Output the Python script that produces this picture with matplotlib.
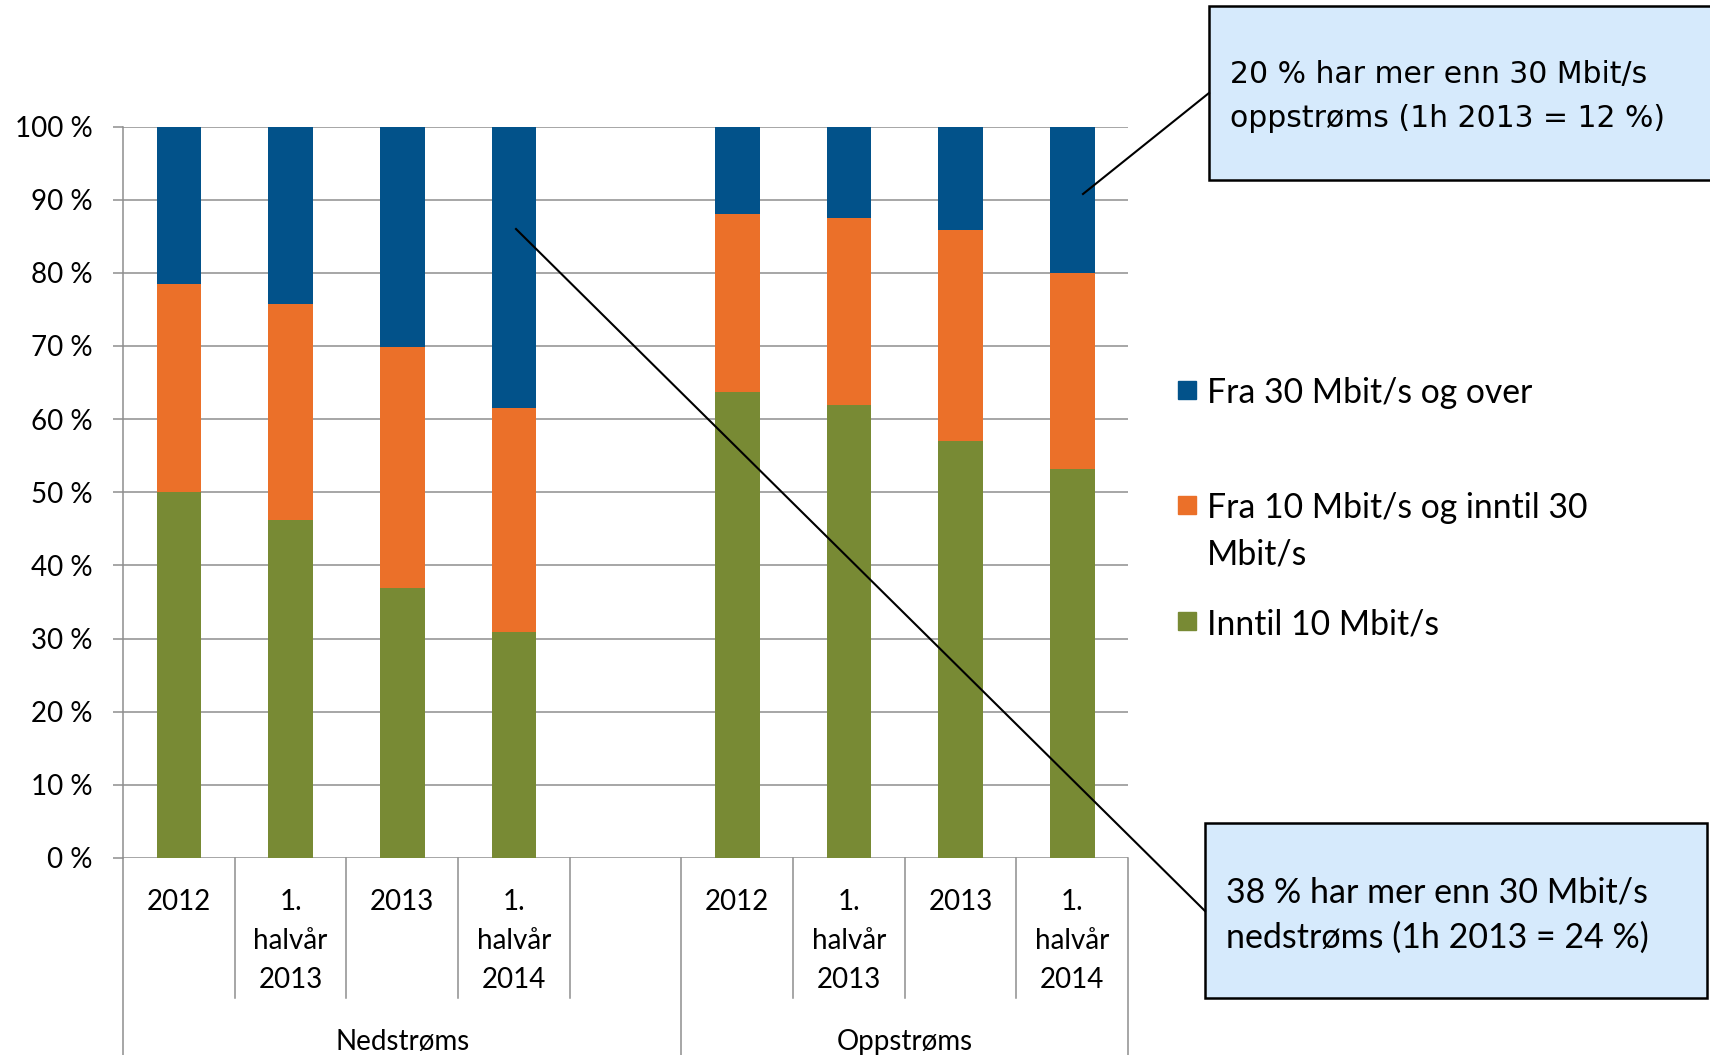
import matplotlib
matplotlib.use('Agg')
import matplotlib.pyplot as plt
from matplotlib.patches import Rectangle
from matplotlib.lines import Line2D

plt.rcParams['font.family'] = ['Lato', 'DejaVu Sans']

# data (share of subscriptions, %)
groups = ['Nedstrøms', 'Oppstrøms']
periods = ['2012', '1.\nhalvår\n2013', '2013', '1.\nhalvår\n2014']
series_names = ['Fra 30 Mbit/s og over', 'Fra 10 Mbit/s og inntil 30\nMbit/s', 'Inntil 10 Mbit/s']
inntil_10 = [50.0, 46.2, 36.9, 30.9, 63.7, 61.9, 57.0, 53.2]
fra_10_til_30 = [28.5, 29.5, 33.0, 30.6, 24.3, 25.6, 28.8, 26.8]
fra_30 = [21.5, 24.3, 30.1, 38.5, 12.0, 12.5, 14.2, 20.0]
note_up = ['20 % har mer enn 30 Mbit/s', 'oppstrøms (1h 2013 = 12 %)']
note_down = ['38 % har mer enn 30 Mbit/s', 'nedstrøms (1h 2013 = 24 %)']

blue = '#02528a'
orange = '#eb7029'
green = '#788a34'
grey = '#8e8e8e'
box_fill = '#d6eafc'

W, H = 1710, 1055
fig = plt.figure(figsize=(W / 100, H / 100), dpi=100)


def fx(px):
    return px / W


def fy(py):
    return 1 - py / H


ax_top, ax_bot = 126.5, 858
ax = fig.add_axes([fx(123), fy(ax_bot), fx(1128) - fx(123), fy(ax_top) - fy(ax_bot)])


def ay(py):
    # pixel row -> axes fraction
    return (ax_bot - py) / (ax_bot - ax_top)


# 4 periods per group, one empty slot between the groups
xpos = [g * (len(periods) + 1) + i for g in range(len(groups)) for i in range(len(periods))]
w = 0.4
ax.bar(xpos, inntil_10, w, color=green, zorder=3)
ax.bar(xpos, fra_10_til_30, w, bottom=inntil_10, color=orange, zorder=3)
bottom2 = [a + b for a, b in zip(inntil_10, fra_10_til_30)]
ax.bar(xpos, fra_30, w, bottom=bottom2, color=blue, zorder=3)

nslots = len(groups) * (len(periods) + 1) - 1
ax.set_xlim(-0.5, nslots - 0.5)
ax.set_ylim(0, 100)
ax.set_yticks(range(0, 101, 10))
ax.set_yticklabels([f'{v} %' for v in range(0, 101, 10)], fontsize=20)
ax.set_xticks([])
ax.tick_params(axis='y', length=7.2, width=1.1, color=grey, pad=14.5)
ax.grid(axis='y', color=grey, lw=1.1)
ax.set_axisbelow(True)
for s in ['top', 'right', 'bottom']:
    ax.spines[s].set_visible(False)
ax.spines['left'].set_color(grey)
ax.spines['left'].set_linewidth(1.1)

# category axis with two levels
tr = ax.get_xaxis_transform()
for k in range(nslots + 1):
    xb = k - 0.5
    long_line = (k % (len(periods) + 1) == 0) or k == nslots
    y_end = -0.29 if long_line else ay(998)
    ax.plot([xb, xb], [0, y_end], color=grey, lw=1.1, transform=tr, clip_on=False)

line_rows = [902, 941, 980]
for g in range(len(groups)):
    for i, lab in enumerate(periods):
        x = xpos[g * len(periods) + i]
        for j, part in enumerate(lab.split('\n')):
            ax.text(x, ay(line_rows[j]), part, transform=tr, ha='center', va='center', fontsize=20)
    gc = g * (len(periods) + 1) + (len(periods) - 1) / 2 + (0.5 if g == 0 else 0)
    ax.text(gc, ay(1042), groups[g], transform=tr, ha='center', va='center', fontsize=20)

# legend, drawn by hand to keep Excel's spacing
leg_rows = [[393], [508, 554], [624]]
for name, col, rows in zip(series_names, [blue, orange, green], leg_rows):
    fig.add_artist(Rectangle((fx(1178), fy(rows[0] + 6)), fx(18), 18 / H, color=col,
                             transform=fig.transFigure))
    for part, r in zip(name.split('\n'), rows):
        fig.text(fx(1207), fy(r), part, ha='left', va='center', fontsize=24.3)

# callout boxes
fig.add_artist(Rectangle((fx(1209), fy(180)), fx(520), 174.5 / H, facecolor=box_fill,
                         edgecolor='black', lw=1.8, transform=fig.transFigure))
for part, r in zip(note_up, [74, 119]):
    fig.text(fx(1230), fy(r), part, ha='left', va='center', fontsize=21.5, family='DejaVu Sans')

fig.add_artist(Rectangle((fx(1205), fy(998)), fx(502), 175 / H, facecolor=box_fill,
                         edgecolor='black', lw=1.8, transform=fig.transFigure))
for part, r in zip(note_down, [893, 938]):
    fig.text(fx(1226), fy(r), part, ha='left', va='center', fontsize=24.5)

fig.add_artist(Line2D([fx(1083), fx(1209)], [fy(194), fy(93)], color='black', lw=1.5,
                      transform=fig.transFigure))
fig.add_artist(Line2D([fx(516), fx(1205)], [fy(229), fy(911)], color='black', lw=1.5,
                      transform=fig.transFigure))

fig.savefig('out.png', dpi=100)
